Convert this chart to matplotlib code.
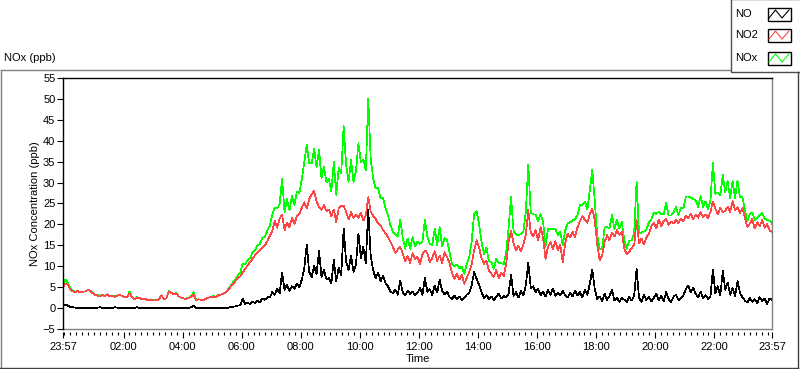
# nox_day.py

import numpy as np
import matplotlib
matplotlib.use("Agg")
import matplotlib.pyplot as plt
from matplotlib.patches import Rectangle

plt.rcParams["font.family"] = ["Liberation Sans", "DejaVu Sans"]
plt.rcParams["font.size"] = 8

# 5-minute readings starting at 23:57, one row per hour
no2 = [
    4.8, 5.9, 5.5, 4.4, 4.0, 3.8, 4.1, 3.7, 3.9, 4.0, 4.3, 4.1,
    3.6, 3.2, 3.0, 2.8, 3.1, 2.9, 3.3, 2.8, 3.0, 2.7, 2.9, 3.2,
    2.9, 2.6, 2.5, 3.5, 2.6, 2.2, 2.4, 2.5, 2.1, 2.3, 2.0, 1.9,
    2.0, 1.8, 1.9, 2.1, 3.0, 2.1, 2.3, 4.0, 3.6, 3.3, 3.5, 2.8,
    2.5, 2.3, 2.2, 2.4, 2.6, 3.3, 1.9, 2.1, 2.0, 1.9, 2.2, 2.5,
    2.6, 2.8, 2.6, 3.0, 3.2, 3.4, 3.6, 4.4, 5.0, 5.8, 6.4, 7.2,
    7.6, 8.5, 9.4, 10.2, 11.0, 11.8, 12.6, 13.3, 13.9, 14.5, 15.0, 16.0,
    17.2, 18.5, 20.8, 19.2, 21.5, 22.3, 18.6, 20.4, 19.3, 21.6, 20.1, 22.0,
    22.5, 24.0, 25.3, 23.8, 26.0, 27.2, 28.0, 25.6, 24.1, 23.5, 24.6, 23.2,
    23.6, 21.9, 23.5, 20.6, 23.9, 24.4, 24.5, 23.0, 21.2, 22.9, 21.5, 22.4,
    21.6, 22.8, 20.9, 22.2, 26.5, 23.1, 22.0, 21.4, 20.2, 19.8, 18.6, 17.9,
    17.0, 15.8, 14.6, 13.2, 14.0, 14.6, 13.0, 11.2, 12.4, 10.8, 13.1, 11.6,
    12.3, 10.6, 12.8, 13.8, 13.2, 10.9, 12.0, 13.6, 11.3, 12.5, 10.8, 13.4,
    12.2, 10.8, 8.4, 7.0, 8.3, 6.8, 7.9, 5.8, 7.2, 8.6, 10.5, 13.8,
    16.2, 14.5, 12.0, 10.6, 11.4, 9.0, 8.2, 7.5, 9.1, 7.2, 8.4, 7.6,
    10.5, 15.8, 18.5, 15.6, 13.8, 14.9, 13.6, 15.2, 17.5, 23.5, 18.0, 17.2,
    18.6, 16.2, 19.4, 16.8, 11.8, 14.6, 15.8, 14.1, 16.0, 13.9, 15.2, 10.9,
    15.5, 17.8, 16.9, 18.2, 17.0, 19.3, 20.8, 22.0, 21.1, 20.4, 22.5, 23.8,
    21.0, 15.2, 11.4, 12.6, 15.8, 17.4, 16.2, 18.0, 17.1, 18.6, 17.5, 18.2,
    14.2, 12.8, 13.5, 14.4, 15.0, 21.0, 15.4, 16.6, 15.2, 16.9, 17.8, 19.6,
    20.4, 19.0, 21.2, 19.6, 20.8, 21.3, 19.9, 20.7, 20.2, 21.0, 20.3, 21.4,
    20.8, 22.0, 21.4, 22.6, 21.2, 22.3, 21.6, 22.9, 21.8, 22.4, 21.5, 23.0,
    25.5, 23.8, 22.4, 24.0, 22.9, 23.3, 24.2, 23.0, 25.6, 23.4, 24.1, 22.8,
    23.9, 21.6, 19.4, 20.2, 21.3, 19.0, 20.5, 19.6, 21.0, 19.2, 20.1, 18.6, 18.2,
]

no = [
    0.5, 0.9, 0.6, 0.3, 0.2, 0.1, 0.1, 0.0, 0.1, 0.0, 0.0, 0.1,
    0.1, 0.0, 0.1, 0.2, 0.0, 0.1, 0.0, 0.1, 0.0, 0.2, 0.1, 0.0,
    0.0, 0.1, 0.0, 0.0, 0.1, 0.0, 0.2, 0.0, 0.1, 0.0, 0.0, 0.1,
    0.0, 0.1, 0.0, 0.0, 0.1, 0.0, 0.0, 0.1, 0.0, 0.0, 0.1, 0.0,
    0.0, 0.0, 0.1, 0.0, 0.2, 0.5, 0.1, 0.0, 0.0, 0.1, 0.0, 0.0,
    0.0, 0.1, 0.0, 0.1, 0.0, 0.1, 0.0, 0.1, 0.2, 0.3, 0.4, 0.6,
    0.7, 2.2, 1.0, 1.3, 0.9, 1.5, 1.2, 1.8, 1.4, 2.3, 2.0, 2.6,
    2.5, 3.8, 3.2, 4.6, 3.5, 8.5, 4.4, 5.6, 4.1, 5.2, 4.6, 5.8,
    5.0, 6.8, 9.5, 15.2, 8.6, 7.4, 10.1, 8.0, 13.8, 7.5, 9.2, 6.9,
    7.2, 6.0, 11.5, 6.5, 9.6, 7.8, 19.0, 11.2, 9.0, 12.5, 8.7, 10.4,
    17.8, 12.0, 14.6, 10.8, 23.5, 12.4, 9.0, 7.2, 8.5, 6.4, 7.8, 5.9,
    5.2, 4.0, 3.6, 4.4, 3.2, 6.6, 3.8, 3.0, 4.2, 3.4, 3.9, 3.1,
    3.6, 4.8, 3.2, 7.2, 3.9, 4.5, 3.1, 5.4, 3.7, 6.8, 4.1, 3.3,
    4.0, 2.6, 2.2, 3.0, 2.1, 2.8, 1.9, 2.4, 3.2, 3.6, 5.5, 8.6,
    7.0, 5.6, 3.8, 2.4, 3.1, 2.2, 2.8, 1.9, 2.7, 3.5, 2.3, 2.9,
    2.6, 3.4, 8.0, 2.9, 3.8, 2.5, 4.1, 3.0, 5.5, 10.8, 4.8, 5.2,
    3.8, 4.6, 3.1, 3.9, 2.8, 4.3, 3.2, 4.7, 2.9, 3.6, 3.0, 4.1,
    3.1, 2.5, 3.6, 2.8, 4.2, 3.0, 3.8, 2.6, 4.4, 3.2, 5.8, 9.2,
    4.6, 2.2, 2.8, 1.6, 3.4, 2.0, 2.9, 4.3, 1.8, 2.5, 1.5, 2.4,
    2.0, 1.4, 2.6, 1.8, 3.0, 9.3, 2.4, 1.5, 3.1, 1.9, 2.7, 1.6,
    2.4, 3.5, 1.8, 2.9, 1.6, 3.8, 2.2, 1.4, 2.7, 3.2, 1.9, 2.5,
    3.0, 4.6, 5.3, 3.8, 4.9, 3.4, 2.6, 3.9, 2.4, 3.1, 2.2, 2.8,
    9.2, 3.5, 5.2, 3.0, 8.9, 4.4, 6.1, 3.2, 4.8, 2.9, 6.4, 3.6,
    2.6, 1.8, 1.3, 2.4, 1.5, 2.1, 1.2, 2.6, 1.7, 2.2, 1.0, 2.3, 2.0,
]

nox = [
    5.3, 6.8, 6.1, 4.7, 4.2, 3.9, 4.2, 3.7, 4.0, 4.0, 4.3, 4.2,
    3.7, 3.2, 3.1, 3.0, 3.1, 3.0, 3.3, 2.9, 3.0, 2.9, 3.0, 3.2,
    2.9, 2.7, 2.5, 4.0, 2.7, 2.2, 2.6, 2.5, 2.2, 2.3, 2.0, 2.0,
    2.0, 1.9, 1.9, 2.1, 3.1, 2.1, 2.3, 4.1, 3.6, 3.3, 3.6, 2.8,
    2.5, 2.3, 2.3, 2.4, 2.8, 3.8, 2.0, 2.1, 2.0, 2.0, 2.2, 2.5,
    2.6, 2.9, 2.6, 3.1, 3.2, 3.5, 3.6, 4.5, 5.2, 6.1, 6.8, 7.8,
    8.3, 10.7, 10.4, 11.5, 11.9, 13.3, 13.8, 15.1, 15.3, 16.8, 17.0, 18.6,
    19.7, 22.3, 24.0, 23.8, 25.0, 30.8, 23.0, 26.0, 23.4, 26.8, 24.7, 27.8,
    27.5, 30.8, 34.8, 39.0, 34.6, 34.6, 38.1, 33.6, 37.9, 31.0, 33.8, 30.1,
    30.8, 27.9, 35.0, 27.1, 33.5, 32.2, 43.5, 34.2, 30.2, 35.4, 30.2, 32.8,
    39.4, 34.8, 35.5, 33.0, 50.0, 35.5, 31.0, 28.6, 28.7, 26.2, 26.4, 23.8,
    22.2, 19.8, 18.2, 17.6, 17.2, 21.2, 16.8, 14.2, 16.6, 14.2, 17.0, 14.7,
    15.9, 15.4, 16.0, 21.0, 17.1, 15.4, 15.1, 19.0, 15.0, 19.3, 14.9, 16.7,
    16.2, 13.4, 10.6, 10.0, 10.4, 9.6, 9.8, 8.2, 10.4, 12.2, 16.0, 22.4,
    23.2, 20.1, 15.8, 13.0, 14.5, 11.2, 11.0, 9.4, 11.8, 10.7, 10.7, 10.5,
    13.1, 19.2, 26.5, 18.5, 17.6, 17.4, 17.7, 18.2, 23.0, 34.3, 22.8, 22.4,
    22.4, 20.8, 22.5, 20.7, 14.6, 18.9, 19.0, 18.8, 18.9, 17.5, 18.2, 15.0,
    18.6, 20.3, 20.5, 21.0, 21.2, 22.3, 24.6, 24.6, 25.5, 23.6, 28.3, 33.0,
    25.6, 17.4, 14.2, 14.2, 19.2, 19.4, 19.1, 22.3, 18.9, 21.1, 19.0, 20.6,
    16.2, 14.2, 16.1, 16.2, 18.0, 30.3, 17.8, 18.1, 18.3, 18.8, 20.5, 21.2,
    22.8, 22.5, 23.0, 22.5, 22.4, 25.1, 22.1, 22.1, 22.9, 24.2, 22.2, 23.9,
    23.8, 26.6, 26.7, 26.4, 26.1, 25.7, 24.2, 26.8, 24.2, 25.5, 23.7, 25.8,
    34.7, 27.3, 27.6, 27.0, 31.8, 27.7, 30.3, 26.2, 30.4, 26.3, 30.5, 26.4,
    26.5, 23.4, 20.7, 22.6, 22.8, 21.1, 21.7, 22.2, 22.7, 21.4, 21.1, 20.9, 20.2,
]

# minutes since 23:57
minutes = np.arange(len(no2)) * 5

tick_minutes = [0, 123, 243, 363, 483, 603, 723, 843, 963, 1083, 1203, 1323, 1440]
tick_labels = ["23:57", "02:00", "04:00", "06:00", "08:00", "10:00", "12:00",
               "14:00", "16:00", "18:00", "20:00", "22:00", "23:57"]

series_names = ["NO", "NO2", "NOx"]
series_colors = ["#000000", "#ff4646", "#00ff00"]


def main():
    W, H = 800, 369
    fig = plt.figure(figsize=(W / 100, H / 100), dpi=100)
    fig.patch.set_facecolor("white")

    # plot area in pixels: x 63..772, y 78..329
    ax = fig.add_axes([63 / W, 1 - 329 / H, (772 - 63) / W, (329 - 78) / H])
    # drawn back to front: NOx, then NO2, then NO on top
    ax.plot(minutes, nox, color=series_colors[2], lw=0.5, antialiased=False)
    ax.plot(minutes, no2, color=series_colors[1], lw=0.5, antialiased=False)
    ax.plot(minutes, no, color=series_colors[0], lw=0.5, antialiased=False)

    ax.set_xlim(0, 1440)
    ax.set_ylim(-5, 55)
    ax.set_yticks(range(-5, 60, 5))

    ax.set_xticks(tick_minutes)
    ax.set_xticklabels(tick_labels)
    minor = [m for m in range(3, 1440, 12) if m not in tick_minutes]
    ax.set_xticks(minor, minor=True)

    ax.spines["left"].set_color("black")
    ax.spines["top"].set_color("black")
    ax.spines["right"].set_color("#808080")
    ax.spines["bottom"].set_visible(False)
    ax.spines["bottom"].set_position(("outward", 2))
    ax.plot([0, 1], [0, 0], transform=ax.transAxes, color="#808080",
            lw=1.0, clip_on=False)
    for s in ["left", "top", "right"]:
        ax.spines[s].set_linewidth(1.0)

    ax.tick_params(axis="x", which="major", length=4.5, width=0.8, pad=3)
    ax.tick_params(axis="x", which="minor", length=2.5, width=0.8)
    ax.tick_params(axis="y", length=4, width=0.8, pad=1.5)
    ax.set_ylabel("NOx Concentration (ppb)", labelpad=2)
    ax.set_xlabel("Time", labelpad=1)

    # overlay in pixel coordinates for the frame and the legend
    ov = fig.add_axes([0, 0, 1, 1], facecolor="none")
    ov.set_xlim(0, W)
    ov.set_ylim(H, 0)
    ov.axis("off")

    ov.plot([0.5, 730], [69.5, 69.5], color="#808080", lw=1)
    ov.plot([0.5, 0.5], [69.5, 368], color="#808080", lw=1)
    ov.plot([0, 797.5], [367.5, 367.5], color="#404040", lw=1)
    ov.plot([797.5, 797.5], [72, 367.5], color="#404040", lw=1)

    ov.text(4, 58, "NOx (ppb)", ha="left", va="center")

    # legend box
    ov.add_patch(Rectangle((730.5, -1), 70, 72.5, facecolor="white",
                           edgecolor="#505050", lw=1))
    rows = [14, 35, 58]
    for name, color, yc in zip(series_names, series_colors, rows):
        ov.text(735, yc, name, ha="left", va="center")
        ov.add_patch(Rectangle((767.5, yc - 6.5), 23, 13, facecolor="white",
                               edgecolor="black", lw=1))
        ov.plot([769, 775.5, 782, 789], [yc + 4, yc - 4, yc + 4, yc - 4],
                color=color, lw=0.8)

    fig.savefig("out.png", dpi=100, facecolor="white")


if __name__ == "__main__":
    main()
